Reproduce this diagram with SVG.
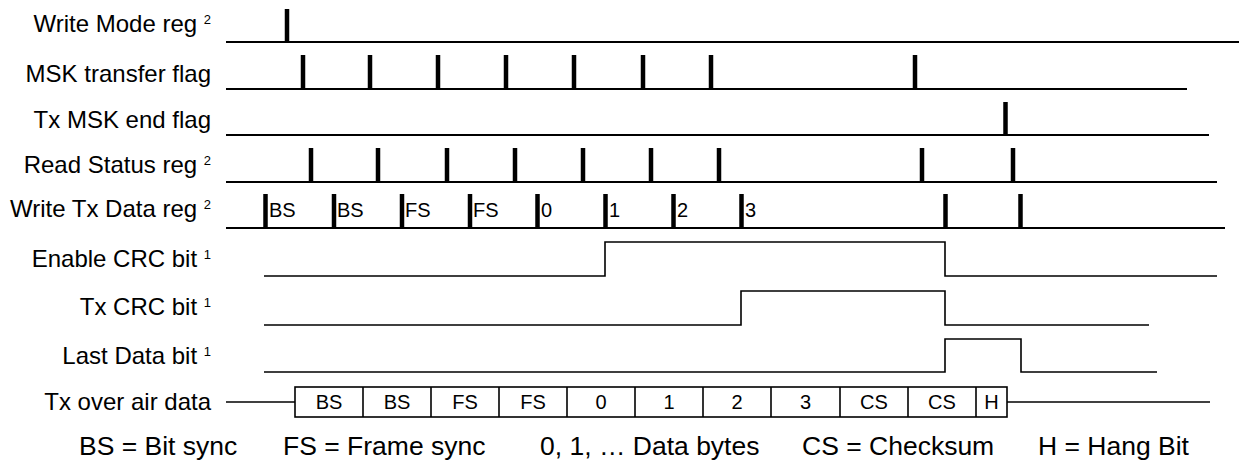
<svg xmlns="http://www.w3.org/2000/svg" width="1239" height="461" viewBox="0 0 1239 461">
<style>
text{font-family:"Liberation Sans",Arial,sans-serif;fill:#000}
.lbl{font-size:24px;text-anchor:end}
.sup{font-size:13px}
.base{stroke:#000;stroke-width:2;fill:none}
.sig{stroke:#000;stroke-width:1.6;fill:none}
.pulse{stroke:#000;stroke-width:4.5}
.dt{font-size:20px}
.cell{font-size:20px;text-anchor:middle}
.leg{font-size:26.5px}
</style>
<rect width="1239" height="461" fill="#fff"/>
<g id="write-mode-reg">
<text class="lbl" x="211" y="32">Write Mode reg <tspan class="sup" dy="-8">2</tspan></text>
<line class="base" x1="226" y1="42" x2="1239" y2="42"/>
<line class="pulse" x1="287" y1="9" x2="287" y2="42"/>
</g>
<g id="msk-transfer-flag">
<text class="lbl" x="211" y="82">MSK transfer flag</text>
<line class="base" x1="226" y1="89" x2="1187" y2="89"/>
<g class="pulse">
<line x1="303" y1="55" x2="303" y2="89"/><line x1="370" y1="55" x2="370" y2="89"/>
<line x1="438" y1="55" x2="438" y2="89"/><line x1="506" y1="55" x2="506" y2="89"/>
<line x1="574" y1="55" x2="574" y2="89"/><line x1="643" y1="55" x2="643" y2="89"/>
<line x1="711" y1="55" x2="711" y2="89"/><line x1="915" y1="55" x2="915" y2="89"/>
</g>
</g>
<g id="tx-msk-end-flag">
<text class="lbl" x="211" y="128">Tx MSK end flag</text>
<line class="base" x1="226" y1="135" x2="1209" y2="135"/>
<line class="pulse" x1="1005.5" y1="102" x2="1005.5" y2="135"/>
</g>
<g id="read-status-reg">
<text class="lbl" x="211" y="173">Read Status reg <tspan class="sup" dy="-8">2</tspan></text>
<line class="base" x1="226" y1="182" x2="1217" y2="182"/>
<g class="pulse">
<line x1="311" y1="148" x2="311" y2="182"/><line x1="378" y1="148" x2="378" y2="182"/>
<line x1="447" y1="148" x2="447" y2="182"/><line x1="515" y1="148" x2="515" y2="182"/>
<line x1="583" y1="148" x2="583" y2="182"/><line x1="651" y1="148" x2="651" y2="182"/>
<line x1="719" y1="148" x2="719" y2="182"/><line x1="922" y1="148" x2="922" y2="182"/>
<line x1="1013" y1="148" x2="1013" y2="182"/>
</g>
</g>
<g id="write-tx-data-reg">
<text class="lbl" x="211" y="217">Write Tx Data reg <tspan class="sup" dy="-8">2</tspan></text>
<line class="base" x1="226" y1="228" x2="1225" y2="228"/>
<g class="pulse">
<line x1="265.5" y1="194" x2="265.5" y2="228"/><line x1="334" y1="194" x2="334" y2="228"/>
<line x1="402" y1="194" x2="402" y2="228"/><line x1="470" y1="194" x2="470" y2="228"/>
<line x1="537.5" y1="194" x2="537.5" y2="228"/><line x1="605.5" y1="194" x2="605.5" y2="228"/>
<line x1="673.5" y1="194" x2="673.5" y2="228"/><line x1="741.5" y1="194" x2="741.5" y2="228"/>
<line x1="945.5" y1="194" x2="945.5" y2="228"/><line x1="1020.5" y1="194" x2="1020.5" y2="228"/>
</g>
<text class="dt" x="269" y="217">BS</text>
<text class="dt" x="337" y="217">BS</text>
<text class="dt" x="405" y="217">FS</text>
<text class="dt" x="473" y="217">FS</text>
<text class="dt" x="541" y="217">0</text>
<text class="dt" x="609" y="217">1</text>
<text class="dt" x="677" y="217">2</text>
<text class="dt" x="745" y="217">3</text>
</g>
<g id="enable-crc-bit">
<text class="lbl" x="211" y="267">Enable CRC bit <tspan class="sup" dy="-8">1</tspan></text>
<polyline class="sig" points="264,276 605,276 605,242 945,242 945,276 1217,276"/>
</g>
<g id="tx-crc-bit">
<text class="lbl" x="211" y="315">Tx CRC bit <tspan class="sup" dy="-8">1</tspan></text>
<polyline class="sig" points="264,325 741,325 741,291 945,291 945,325 1149,325"/>
</g>
<g id="last-data-bit">
<text class="lbl" x="211" y="364">Last Data bit <tspan class="sup" dy="-8">1</tspan></text>
<polyline class="sig" points="264,372 945,372 945,339 1021,339 1021,372 1157,372"/>
</g>
<g id="tx-over-air-data">
<text class="lbl" x="211" y="410">Tx over air data</text>
<line class="sig" x1="226" y1="402" x2="295" y2="402"/>
<line class="sig" x1="1007" y1="402" x2="1210" y2="402"/>
<rect class="sig" x="295" y="387" width="712" height="30"/>
<g class="sig">
<line x1="363" y1="387" x2="363" y2="417"/><line x1="431" y1="387" x2="431" y2="417"/>
<line x1="499" y1="387" x2="499" y2="417"/><line x1="567" y1="387" x2="567" y2="417"/>
<line x1="635" y1="387" x2="635" y2="417"/><line x1="703" y1="387" x2="703" y2="417"/>
<line x1="771" y1="387" x2="771" y2="417"/><line x1="840" y1="387" x2="840" y2="417"/>
<line x1="908" y1="387" x2="908" y2="417"/><line x1="976" y1="387" x2="976" y2="417"/>
</g>
<text class="cell" x="329" y="409">BS</text>
<text class="cell" x="397" y="409">BS</text>
<text class="cell" x="465" y="409">FS</text>
<text class="cell" x="533" y="409">FS</text>
<text class="cell" x="601" y="409">0</text>
<text class="cell" x="669" y="409">1</text>
<text class="cell" x="737" y="409">2</text>
<text class="cell" x="805.5" y="409">3</text>
<text class="cell" x="874" y="409">CS</text>
<text class="cell" x="942" y="409">CS</text>
<text class="cell" x="991.5" y="409">H</text>
</g>
<g id="legend">
<text class="leg" x="79" y="455">BS = Bit sync</text>
<text class="leg" x="283" y="455">FS = Frame sync</text>
<text class="leg" x="540" y="455">0, 1, … Data bytes</text>
<text class="leg" x="802" y="455">CS = Checksum</text>
<text class="leg" x="1038" y="455">H = Hang Bit</text>
</g>
</svg>
